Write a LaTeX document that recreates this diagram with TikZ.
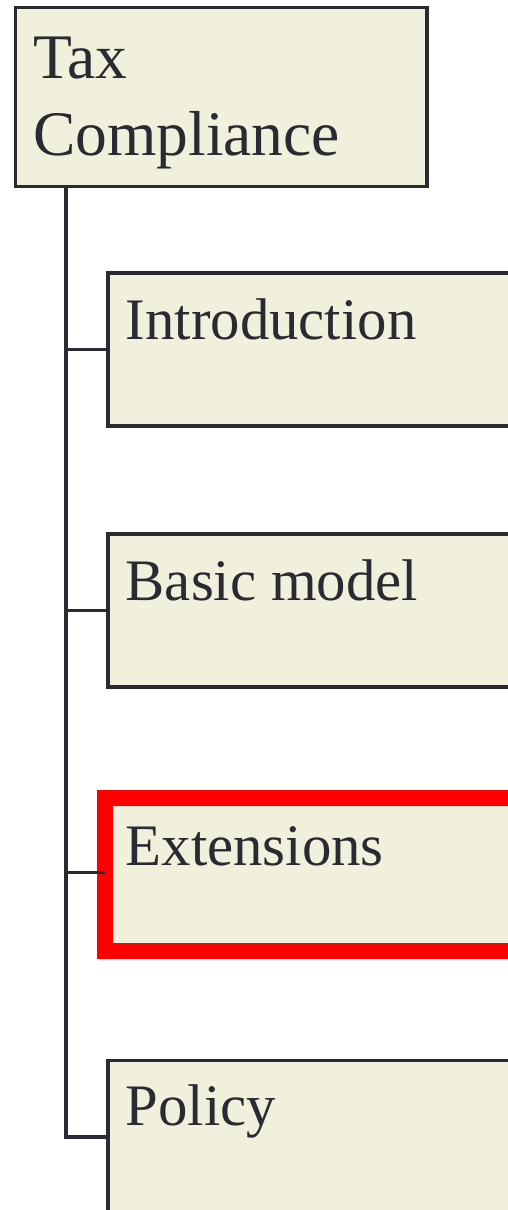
\documentclass[tikz,border=0pt]{standalone}
\usepackage{fontspec}
\setmainfont{Liberation Serif}
\newfontfamily\outlinefont{Liberation Serif}
\usetikzlibrary{calc}
\definecolor{boxfill}{HTML}{F0F0DC}
\definecolor{ink}{HTML}{2A2A33}
\definecolor{hilite}{HTML}{FF0000}
\tikzset{
  topic/.style={draw=ink, line width=3.2pt, fill=boxfill, rectangle, inner sep=0pt,
    outer sep=0pt, anchor=north west, minimum width=#1},
  topic/.default=452pt,
  rootlabel/.style={text=ink, font=\outlinefont\fontsize{63.5pt}{77pt}\selectfont,
    inner sep=0pt, anchor=base west, align=left},
  leaflabel/.style={text=ink, font=\outlinefont\fontsize{58.8pt}{70pt}\selectfont,
    inner sep=0pt, anchor=base west},
  branch/.style={draw=ink, line width=3.2pt},
}
\begin{document}
\begin{tikzpicture}[x=1pt,y=1pt]
\useasboundingbox (0,0) rectangle (508,-1210);

% root of the outline
\node[topic=411.5pt, minimum height=179pt] (root) at (15.5,-7.5) {};
\node[rootlabel] (roottxt) at (33,-155) {Tax\\Compliance};

% sections
\node[topic, minimum height=153pt] (intro) at (108,-273) {};
\node[leaflabel] (introtxt) at (125.5,-339) {Introduction};

\node[topic, minimum height=153pt] (basic) at (108,-534) {};
\node[leaflabel] (basictxt) at (125.5,-600) {Basic model};

\node[topic, draw=hilite, line width=16pt, minimum height=153pt] (ext) at (104.7,-798) {};
\node[leaflabel] (exttxt) at (125.5,-865) {Extensions};

\node[topic, minimum height=153pt] (policy) at (108,-1060.5) {};
\node[leaflabel] (policytxt) at (125.5,-1125) {Policy};

% tree connectors
\coordinate (trunk) at ($(root.south west)+(50.5,0)$);
\draw[branch] (trunk) |- (intro.west);
\draw[branch] (trunk) |- (basic.west);
\draw[branch] (trunk) |- ($(ext.west)+(0,2)$);
\draw[branch] (trunk) |- (policy.west);
\end{tikzpicture}
\end{document}
